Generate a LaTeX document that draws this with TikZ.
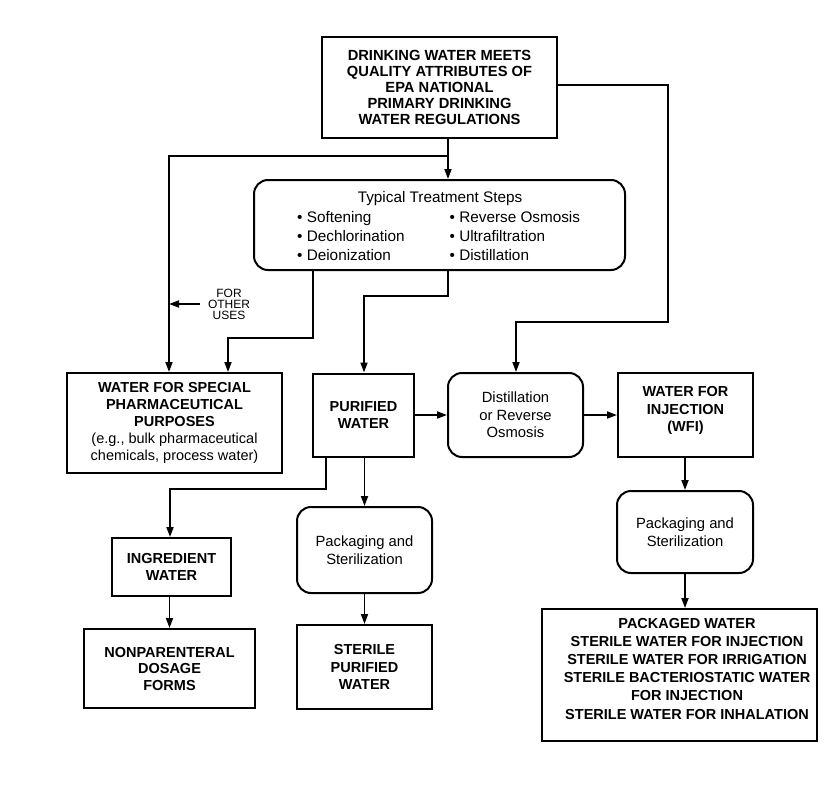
\documentclass[tikz,border=0pt]{standalone}
\usepackage{fontspec}
\setmainfont{Liberation Sans}
\usetikzlibrary{arrows.meta}
\begin{document}
\begin{tikzpicture}[x=1pt,y=-1pt,
  box/.style={draw, line width=2pt, align=center, inner sep=0pt},
  rbox/.style={draw, line width=2pt, rounded corners=14pt, align=center, inner sep=0pt},
  conn/.style={line width=1.8pt, -{Triangle[length=10pt,width=7pt]}},
  lbl/.style={inner sep=0pt, font=\fontsize{15.3}{18}\selectfont}
]
\useasboundingbox (0,0) rectangle (834,805);

% boxes
\node[box, minimum width=235pt, minimum height=101pt, font=\fontsize{14.7}{16}\selectfont\bfseries] (top) at (439.5,87.5)
  {DRINKING WATER MEETS\\QUALITY ATTRIBUTES OF\\EPA NATIONAL\\PRIMARY DRINKING\\WATER REGULATIONS};

\node[rbox, minimum width=371pt, minimum height=90pt] (treat) at (439.5,225) {};
\node[lbl, anchor=base] (tt) at (440,202) {Typical Treatment Steps};
\node[lbl, anchor=base west] (s1) at (297,222) {• Softening};
\node[lbl, anchor=base west] (s2) at (297,241) {• Dechlorination};
\node[lbl, anchor=base west] (s3) at (297,260) {• Deionization};
\node[lbl, anchor=base west] (s4) at (449.5,222) {• Reverse Osmosis};
\node[lbl, anchor=base west] (s5) at (449.5,241) {• Ultrafiltration};
\node[lbl, anchor=base west] (s6) at (449.5,260) {• Distillation};

\node[box, minimum width=215pt, minimum height=100pt, font=\fontsize{14.5}{17}\selectfont\bfseries] (special) at (174.5,423)
  {WATER FOR SPECIAL\\PHARMACEUTICAL\\PURPOSES\\{\mdseries (e.g., bulk pharmaceutical}\\{\mdseries chemicals, process water)}};

\node[box, minimum width=101pt, minimum height=83pt, font=\fontsize{14.5}{16.5}\selectfont\bfseries] (purified) at (363.5,415)
  {PURIFIED\\WATER};

\node[rbox, minimum width=135pt, minimum height=84pt, font=\fontsize{14.8}{17.5}\selectfont] (distill) at (515.5,415)
  {Distillation\\or Reverse\\Osmosis};

\node[box, minimum width=135pt, minimum height=84pt] (wfi) at (685.5,415) {};
\node[inner sep=0pt, align=center, font=\fontsize{14.5}{17.5}\selectfont\bfseries] (wfiT) at (685.5,410.5)
  {WATER FOR\\INJECTION\\(WFI)};

\node[box, minimum width=119pt, minimum height=58pt, font=\fontsize{14.5}{17}\selectfont\bfseries] (ingred) at (171.5,567)
  {INGREDIENT\\WATER};

\node[box, minimum width=171pt, minimum height=79pt, font=\fontsize{14.5}{16.5}\selectfont\bfseries] (nonpar) at (169.5,668.5)
  {NONPARENTERAL\\DOSAGE\\FORMS};

\node[rbox, minimum width=135pt, minimum height=86pt, font=\fontsize{14.8}{17.5}\selectfont] (pack1) at (364.5,550)
  {Packaging and\\Sterilization};

\node[box, minimum width=135pt, minimum height=84pt, font=\fontsize{14.5}{17.5}\selectfont\bfseries] (sterile) at (364.5,667)
  {STERILE\\PURIFIED\\WATER};

\node[rbox, minimum width=136pt, minimum height=82pt, font=\fontsize{14.8}{18.5}\selectfont] (pack2) at (685,532)
  {Packaging and\\Sterilization};

\node[box, minimum width=275pt, minimum height=132pt] (final) at (679.5,675) {};
\node[inner sep=0pt, align=center, font=\fontsize{14.5}{18.2}\selectfont\bfseries] (finalT) at (687,668.5)
  {PACKAGED WATER\\STERILE WATER FOR INJECTION\\STERILE WATER FOR IRRIGATION\\STERILE BACTERIOSTATIC WATER\\FOR INJECTION\\STERILE WATER FOR INHALATION};

\node[inner sep=0pt, align=center, font=\fontsize{12}{11}\selectfont] (other) at (229,304) {FOR\\OTHER\\USES};

% junction coordinates
\coordinate (a1) at (448,156);
\coordinate (a2) at (169,156);
\coordinate (b1) at (668,85);
\coordinate (b2) at (668,322);
\coordinate (b3) at (516,322);
\coordinate (c1) at (313,338);
\coordinate (c2) at (228,338);
\coordinate (d1) at (448,296);
\coordinate (d2) at (364,296);
\coordinate (e1) at (326,489);
\coordinate (e2) at (170,489);

% connectors
\draw[conn] (a1 |- top.south) -- (a1 |- treat.north);
\draw[conn] (a1) -- (a2) -- (a2 |- special.north);
\draw[conn] (top.east |- b1) -- (b1) -- (b2) -- (b3) -- (b3 |- distill.north);
\draw[conn] (c1 |- treat.south) -- (c1) -- (c2) -- (c2 |- special.north);
\draw[conn] (d1 |- treat.south) -- (d1) -- (d2) -- (d2 |- purified.north);
\draw[conn] ([xshift=-8pt]other.west) -- (a2 |- other.west);
\draw[conn] (purified.east) -- (distill.west);
\draw[conn] (distill.east) -- (wfi.west);
\draw[conn] (e1 |- purified.south) -- (e1) -- (e2) -- (e2 |- ingred.north);
\draw[conn] (pack1.north |- purified.south) -- (pack1.north);
\draw[conn] (pack1.south) -- (sterile.north);
\draw[conn] (nonpar.north |- ingred.south) -- (nonpar.north);
\draw[conn] (pack2.north |- wfi.south) -- (pack2.north);
\draw[conn] (pack2.south) -- (pack2.south |- final.north);
\end{tikzpicture}
\end{document}
